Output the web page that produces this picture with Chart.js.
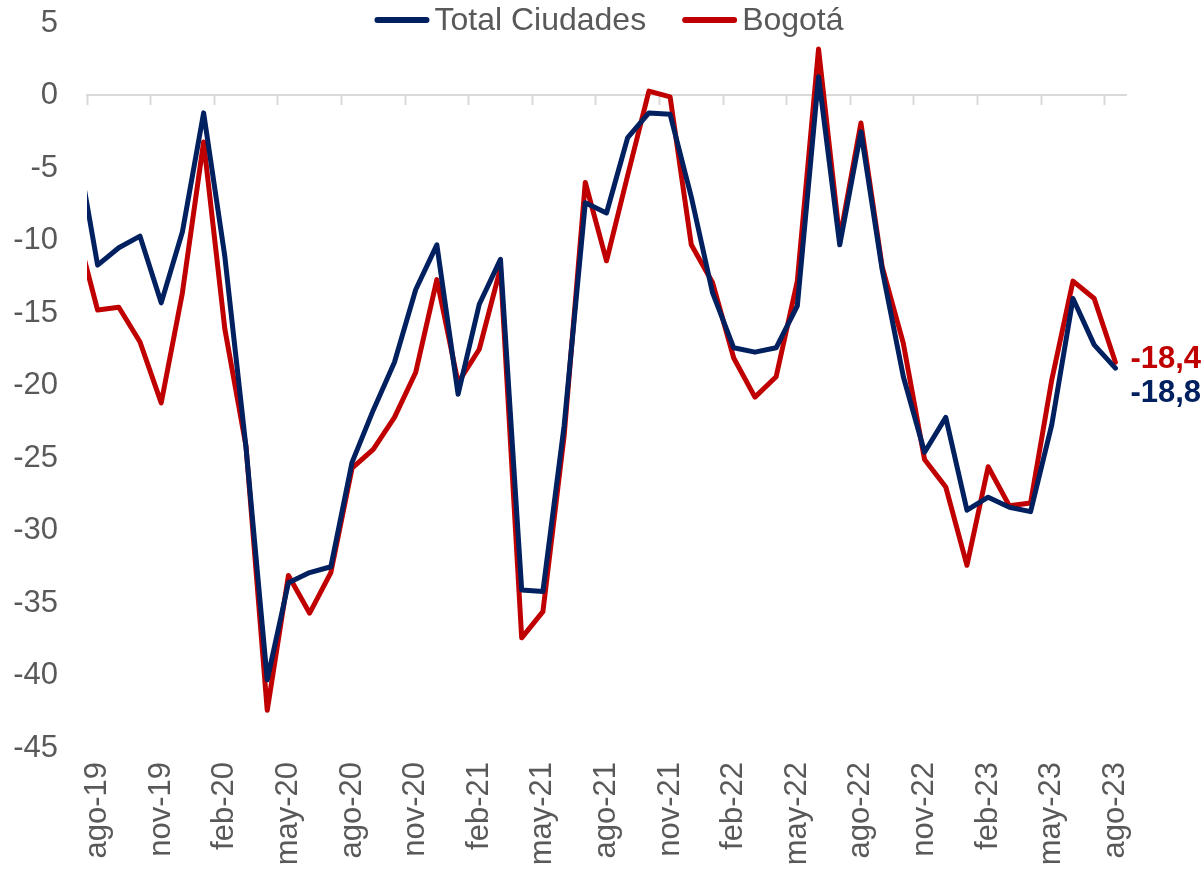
<!DOCTYPE html>
<html lang="es">
<head>
<meta charset="utf-8">
<title>Total Ciudades vs Bogotá</title>
<script src="https://cdn.jsdelivr.net/npm/chart.js@4/dist/chart.umd.min.js"></script>
<style>
  html, body { margin: 0; padding: 0; background: #ffffff; }
  #wrap { width: 1204px; height: 871px; }
</style>
</head>
<body>
<div id="wrap"><canvas id="lineChart" width="1204" height="871"></canvas></div>
<script>
// jul-19 only feeds the clipped segment at the left edge
const months = [
    'jul-19', 'ago-19', 'sep-19', 'oct-19', 'nov-19', 'dic-19',
    'ene-20', 'feb-20', 'mar-20', 'abr-20', 'may-20', 'jun-20', 'jul-20', 'ago-20', 'sep-20', 'oct-20', 'nov-20', 'dic-20',
    'ene-21', 'feb-21', 'mar-21', 'abr-21', 'may-21', 'jun-21', 'jul-21', 'ago-21', 'sep-21', 'oct-21', 'nov-21', 'dic-21',
    'ene-22', 'feb-22', 'mar-22', 'abr-22', 'may-22', 'jun-22', 'jul-22', 'ago-22', 'sep-22', 'oct-22', 'nov-22', 'dic-22',
    'ene-23', 'feb-23', 'mar-23', 'abr-23', 'may-23', 'jun-23', 'jul-23', 'ago-23'
];
const firstVisibleMonth = 'ago-19';

const totalCiudades = [
    -3.3, -11.7, -10.5, -9.7, -14.3, -9.4,
    -1.2, -11.1, -24.3, -40.3, -33.6, -32.9, -32.5, -25.3, -21.7, -18.4, -13.4, -10.3,
    -20.6, -14.4, -11.3, -34.1, -34.2, -22.8, -7.4, -8.1, -2.9, -1.2, -1.3, -7.0,
    -13.6, -17.4, -17.7, -17.4, -14.5, 1.3, -10.3, -2.5, -12.0, -19.4, -24.6, -22.2,
    -28.6, -27.7, -28.4, -28.7, -22.7, -14.0, -17.2, -18.8
];
const bogota = [
    -9.2, -14.8, -14.6, -17.0, -21.2, -13.6,
    -3.2, -16.1, -24.2, -42.4, -33.1, -35.7, -32.9, -25.7, -24.4, -22.2, -19.1, -12.7,
    -19.8, -17.5, -11.9, -37.4, -35.6, -23.5, -6.0, -11.4, -5.5, 0.3, -0.1, -10.3,
    -12.9, -18.1, -20.8, -19.4, -12.8, 3.2, -9.9, -1.9, -11.8, -17.1, -25.1, -27.0,
    -32.4, -25.6, -28.3, -28.1, -19.6, -12.8, -14.0, -18.4
];
const lastLabels = ['-18,8', '-18,4'];

const seriesNames = ['Total Ciudades', 'Bogotá'];
const seriesColors = ['#002060', '#C00000'];
const yMin = -45, yMax = 5, yStep = 5;

const FONT = "'Liberation Sans', Arial, sans-serif";
const GREY = '#595959';

document.addEventListener('DOMContentLoaded', function() {
    // legend drawn by hand: it overlaps the top of the plot like the excel one
    const topLegend = {
        id: 'topLegend',
        afterDraw(chart) {
            const ctx = chart.ctx;
            const lineLen = 55, gap = 5, itemGap = 36, y = 20;
            ctx.save();
            ctx.font = '32px ' + FONT;
            const items = chart.data.datasets.map(function(ds) {
                return { ds: ds, w: lineLen + gap + ctx.measureText(ds.label).width };
            });
            let total = itemGap * (items.length - 1);
            items.forEach(function(it) { total += it.w; });
            let x = 609 - total / 2;
            items.forEach(function(it) {
                ctx.strokeStyle = it.ds.borderColor;
                ctx.lineWidth = 6;
                ctx.lineCap = 'round';
                ctx.beginPath();
                ctx.moveTo(x + 3, y);
                ctx.lineTo(x + lineLen - 3, y);
                ctx.stroke();
                ctx.fillStyle = GREY;
                ctx.textAlign = 'left';
                ctx.textBaseline = 'middle';
                ctx.fillText(it.ds.label, x + lineLen + gap, y + 1);
                x += it.w + itemGap;
            });
            ctx.restore();
        }
    };

    // value labels to the right of the last point
    const endLabels = {
        id: 'endLabels',
        afterDatasetsDraw(chart) {
            const ctx = chart.ctx;
            const shifts = [25, -3];
            ctx.save();
            ctx.font = 'bold 31px ' + FONT;
            ctx.textAlign = 'left';
            ctx.textBaseline = 'middle';
            chart.data.datasets.forEach(function(ds, i) {
                const pts = chart.getDatasetMeta(i).data;
                const p = pts[pts.length - 1];
                ctx.fillStyle = ds.borderColor;
                ctx.fillText(lastLabels[i], p.x + 15, p.y + shifts[i]);
            });
            ctx.restore();
        }
    };

    const ctx = document.getElementById('lineChart').getContext('2d');
    new Chart(ctx, {
        type: 'line',
        data: {
            labels: months,
            datasets: [
                {
                    label: seriesNames[0],
                    data: totalCiudades,
                    borderColor: seriesColors[0],
                    backgroundColor: seriesColors[0],
                    borderWidth: 5,
                    borderCapStyle: 'round',
                    borderJoinStyle: 'round',
                    pointRadius: 0,
                    tension: 0
                },
                {
                    label: seriesNames[1],
                    data: bogota,
                    borderColor: seriesColors[1],
                    backgroundColor: seriesColors[1],
                    borderWidth: 5,
                    borderCapStyle: 'round',
                    borderJoinStyle: 'round',
                    pointRadius: 0,
                    tension: 0
                }
            ]
        },
        options: {
            responsive: false,
            animation: false,
            layout: { padding: { top: 23, right: 78, bottom: 0, left: 0 } },
            plugins: {
                tooltip: { enabled: false },
                legend: { display: false }
            },
            scales: {
                x: {
                    type: 'category',
                    min: firstVisibleMonth,
                    offset: true,
                    grid: { display: false, drawTicks: false },
                    border: { display: false },
                    afterFit: function(scale) { scale.height = 123; },
                    ticks: {
                        autoSkip: false,
                        minRotation: 90,
                        maxRotation: 90,
                        padding: 14,
                        color: GREY,
                        font: { family: FONT, size: 31 },
                        callback: function(value, index) {
                            return index % 3 === 0 ? this.getLabelForValue(value) : null;
                        }
                    }
                },
                // zero line with small tick marks every three months
                x2: {
                    type: 'category',
                    min: firstVisibleMonth,
                    offset: true,
                    position: { y: 0 },
                    border: { display: true, color: '#d9d9d9', width: 2 },
                    grid: {
                        display: true,
                        drawOnChartArea: false,
                        drawTicks: true,
                        offset: true,
                        tickLength: 9,
                        tickWidth: 2,
                        tickColor: function(c) { return c.index % 3 === 0 ? '#d9d9d9' : 'rgba(0,0,0,0)'; }
                    },
                    ticks: { display: false, autoSkip: false }
                },
                y: {
                    min: yMin,
                    max: yMax,
                    grid: { display: false, drawTicks: false },
                    border: { display: false },
                    afterFit: function(scale) {
                        scale.width = 87;
                        scale.paddingTop = 0;
                        scale.paddingBottom = 0;
                    },
                    ticks: {
                        stepSize: yStep,
                        padding: 29,
                        color: GREY,
                        font: { family: FONT, size: 31 }
                    }
                }
            }
        },
        plugins: [topLegend, endLabels]
    });
});
</script>
</body>
</html>
